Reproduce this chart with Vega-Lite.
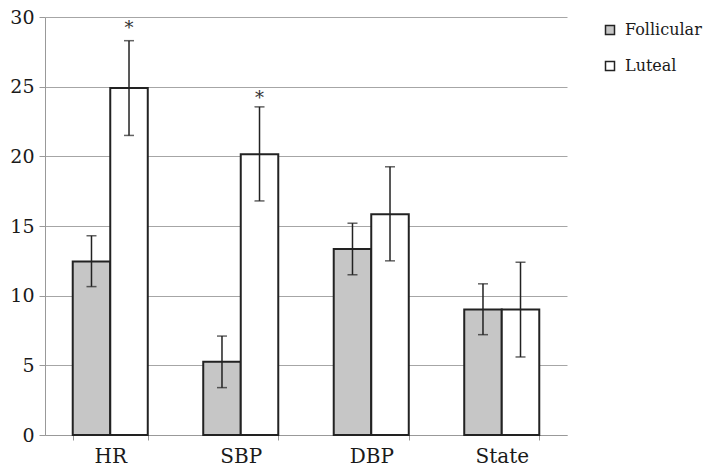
{
  "$schema": "https://vega.github.io/schema/vega-lite/v6.json",
  "width": 522,
  "height": 418,
  "autosize": "none",
  "padding": {"left": 45, "top": 17, "right": 140, "bottom": 40},
  "background": "white",
  "config": {"view": {"stroke": null}, "font": "DejaVu Serif"},
  "data": {
    "values": [
      {"measure": "HR", "phase": "Follicular", "value": 12.45, "lo": 10.65, "hi": 14.3},
      {"measure": "HR", "phase": "Luteal", "value": 24.9, "lo": 21.5, "hi": 28.3, "star": 29.5},
      {"measure": "SBP", "phase": "Follicular", "value": 5.25, "lo": 3.4, "hi": 7.1},
      {"measure": "SBP", "phase": "Luteal", "value": 20.15, "lo": 16.8, "hi": 23.55, "star": 24.5},
      {"measure": "DBP", "phase": "Follicular", "value": 13.35, "lo": 11.5, "hi": 15.2},
      {"measure": "DBP", "phase": "Luteal", "value": 15.85, "lo": 12.5, "hi": 19.25},
      {"measure": "State", "phase": "Follicular", "value": 9.0, "lo": 7.2, "hi": 10.85},
      {"measure": "State", "phase": "Luteal", "value": 9.0, "lo": 5.6, "hi": 12.4}
    ]
  },
  "encoding": {
    "x": {
      "field": "measure",
      "type": "nominal",
      "sort": ["HR", "SBP", "DBP", "State"],
      "scale": {"paddingInner": 0.425, "paddingOuter": 0.2125},
      "axis": {
        "title": null,
        "labelAngle": 0,
        "labelFontSize": 20,
        "labelFont": "DejaVu Serif",
        "labelColor": "#1a1a1a",
        "labelPadding": 6,
        "tickBand": "extent",
        "tickSize": 5,
        "tickColor": "#999999",
        "domainColor": "#999999",
        "grid": false
      }
    },
    "xOffset": {
      "field": "phase",
      "type": "nominal",
      "sort": ["Follicular", "Luteal"],
      "scale": {"paddingInner": 0, "paddingOuter": 0}
    }
  },
  "layer": [
    {
      "mark": {"type": "bar", "stroke": "#222222", "strokeWidth": 2},
      "encoding": {
        "y": {
          "field": "value",
          "type": "quantitative",
          "title": null,
          "scale": {"domain": [0, 30], "nice": false},
          "axis": {
            "title": null,
            "values": [0, 5, 10, 15, 20, 25, 30],
            "grid": true,
            "gridColor": "#a6a6a6",
            "gridWidth": 1,
            "domainColor": "#999999",
            "tickColor": "#999999",
            "tickSize": 6,
            "labelFontSize": 19,
            "labelFont": "DejaVu Serif",
            "labelColor": "#1a1a1a",
            "labelPadding": 5
          }
        },
        "fill": {
          "field": "phase",
          "type": "nominal",
          "scale": {"domain": ["Follicular", "Luteal"], "range": ["#c6c6c6", "#ffffff"]},
          "legend": {
            "title": null,
            "orient": "none",
            "legendX": 557,
            "legendY": 5,
            "symbolType": "square",
            "symbolSize": 81,
            "symbolStrokeColor": "#222222",
            "symbolStrokeWidth": 1.5,
            "labelFontSize": 16,
            "labelFont": "DejaVu Serif",
            "labelColor": "#1a1a1a",
            "labelOffset": 7,
            "rowPadding": 20,
            "padding": 0
          }
        }
      }
    },
    {
      "mark": {"type": "rule", "color": "#222222", "strokeWidth": 1.5},
      "encoding": {
        "y": {"field": "lo", "type": "quantitative", "title": null},
        "y2": {"field": "hi"}
      }
    },
    {
      "mark": {"type": "tick", "color": "#222222", "thickness": 1.5, "size": 10},
      "encoding": {"y": {"field": "lo", "type": "quantitative", "title": null}}
    },
    {
      "mark": {"type": "tick", "color": "#222222", "thickness": 1.5, "size": 10},
      "encoding": {"y": {"field": "hi", "type": "quantitative", "title": null}}
    },
    {
      "transform": [{"filter": "datum.star != null"}],
      "mark": {"type": "text", "text": "*", "fontSize": 18, "dy": 10, "baseline": "alphabetic", "color": "#333333", "font": "DejaVu Serif"},
      "encoding": {"y": {"field": "star", "type": "quantitative", "title": null}}
    }
  ]
}
